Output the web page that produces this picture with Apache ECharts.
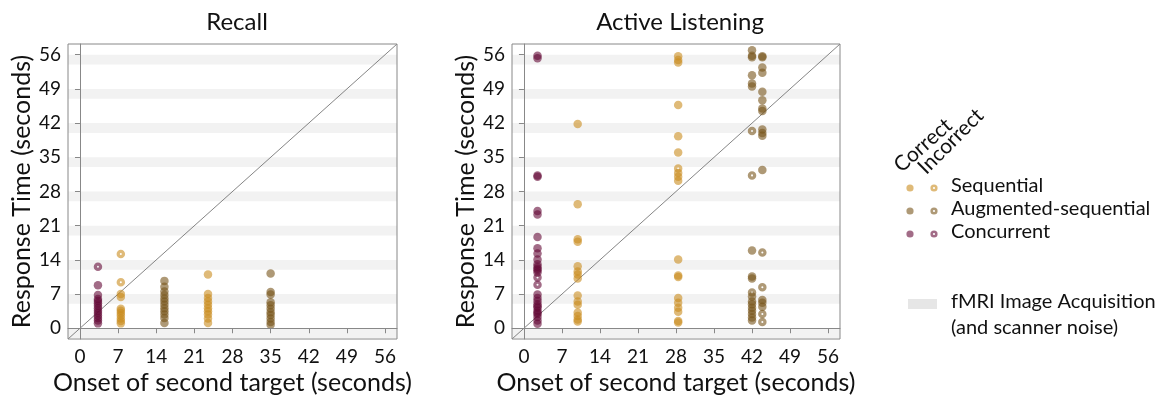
<!DOCTYPE html>
<html>
<head>
<meta charset="utf-8">
<script src="https://cdn.jsdelivr.net/npm/echarts@6/dist/echarts.min.js"></script>
<style>
  html, body { margin: 0; padding: 0; background: #fff; }
  #main { width: 1159px; height: 398px; }
</style>
</head>
<body>
<div id="main"></div>
<script>
// tick labels on both axes (seconds)
const ticks = [0, 7, 14, 21, 28, 35, 42, 49, 56];
// each fMRI acquisition ends on a tick and lasts 2 s
const scanDuration = 2;
const axisMin = -2.2;
const axisMax = 58.2;

// [onset of second target, response time]
const recallSequentialCorrect = [
  [7.5, 7.0], [7.5, 6.4], [7.5, 4.0], [7.5, 3.6], [7.5, 3.1], [7.5, 2.6], [7.5, 2.0], [7.5, 1.5], [7.5, 1.0],
  [23.5, 11.0], [23.5, 7.0], [23.5, 6.2], [23.5, 5.5], [23.5, 4.8], [23.5, 4.1], [23.5, 3.5], [23.5, 2.8], [23.5, 2.0], [23.5, 1.1]
];
const recallSequentialIncorrect = [[7.5, 15.2], [7.5, 9.4]];
const recallAugmentedCorrect = [
  [15.5, 9.7], [15.5, 8.5], [15.5, 7.5], [15.5, 6.8], [15.5, 6.1], [15.5, 5.5], [15.5, 4.8], [15.5, 4.1], [15.5, 3.5], [15.5, 2.8], [15.5, 2.1], [15.5, 1.1],
  [35, 11.2], [35, 7.4], [35, 6.9], [35, 5.3], [35, 4.7], [35, 4.0], [35, 3.3], [35, 2.7], [35, 2.0], [35, 1.3], [35, 0.7]
];
const recallAugmentedIncorrect = [];
const recallConcurrentCorrect = [
  [3.3, 8.8], [3.3, 6.8], [3.3, 6.0], [3.3, 5.6], [3.3, 5.1], [3.3, 4.6], [3.3, 4.1], [3.3, 3.6], [3.3, 3.1],
  [3.3, 2.6], [3.3, 2.1], [3.3, 1.6], [3.3, 1.0]
];
const recallConcurrentIncorrect = [[3.3, 12.6]];

const activeSequentialCorrect = [
  [9.9, 41.8], [9.9, 25.4], [9.9, 18.2], [9.9, 17.7], [9.9, 12.7], [9.9, 11.6], [9.9, 11.0], [9.9, 10.2], [9.9, 6.7], [9.9, 5.5], [9.9, 4.8], [9.9, 3.2], [9.9, 2.5], [9.9, 1.8], [9.9, 1.4],
  [28.4, 55.7], [28.4, 54.9], [28.4, 54.4], [28.4, 45.7], [28.4, 39.3], [28.4, 36.0], [28.4, 31.8], [28.4, 31.0], [28.4, 30.2],
  [28.4, 14.1], [28.4, 10.8], [28.4, 10.5], [28.4, 6.2], [28.4, 5.2], [28.4, 4.2], [28.4, 3.4], [28.4, 1.5], [28.4, 1.2]
];
const activeSequentialIncorrect = [[28.4, 32.7]];
const activeAugmentedCorrect = [
  [42, 56.9], [42, 55.8], [42, 55.5], [42, 51.8], [42, 50.1], [42, 49.5], [42, 15.9], [42, 10.6], [42, 10.2], [42, 6.5], [42, 5.5], [42, 4.9], [42, 4.2], [42, 3.6], [42, 2.9], [42, 2.2], [42, 1.6],
  [43.9, 55.7], [43.9, 55.5], [43.9, 53.4], [43.9, 52.3], [43.9, 48.4], [43.9, 46.7], [43.9, 45.0], [43.9, 44.5],
  [43.9, 40.7], [43.9, 40.0], [43.9, 39.4], [43.9, 32.4], [43.9, 5.8], [43.9, 5.2], [43.9, 4.4]
];
const activeAugmentedIncorrect = [[42, 40.4], [42, 31.3], [42, 7.3], [43.9, 15.5], [43.9, 8.4], [43.9, 2.9], [43.9, 1.3]];
const activeConcurrentCorrect = [
  [2.5, 55.8], [2.5, 55.3], [2.5, 31.3], [2.5, 31.0], [2.5, 24.0], [2.5, 23.3], [2.5, 18.7], [2.5, 16.4], [2.5, 15.3], [2.5, 14.1],
  [2.5, 13.1], [2.5, 12.6], [2.5, 12.2], [2.5, 11.9], [2.5, 11.4], [2.5, 6.9], [2.5, 6.2], [2.5, 5.6], [2.5, 4.9], [2.5, 4.5],
  [2.5, 4.2], [2.5, 3.6], [2.5, 3.2], [2.5, 2.9], [2.5, 2.3], [2.5, 1.6], [2.5, 0.9]
];
const activeConcurrentIncorrect = [[2.5, 10.4], [2.5, 8.9]];

const colors = {
  Sequential: '#c98c1e',
  'Augmented-sequential': '#78551a',
  Concurrent: '#640a37'
};
const dotOpacity = 0.6;
const font = 'Lato, "Open Sans", sans-serif';

// donut symbol for incorrect answers
const ringSymbol = 'path://M0,10A10,10 0 1,1 20,10A10,10 0 1,1 0,10ZM7.6,10A2.4,2.4 0 1,0 12.4,10A2.4,2.4 0 1,0 7.6,10Z';

const chart = echarts.init(document.getElementById('main'));

function xAxisFor(i) {
  return {
    gridIndex: i, type: 'value', min: axisMin, max: axisMax, z: 10,
    name: 'Onset of second target (seconds)', nameLocation: 'middle', nameGap: 31,
    nameTextStyle: { fontSize: 25, color: '#111', fontFamily: font },
    axisLine: { show: true, lineStyle: { color: '#888' } },
    axisTick: { show: true, length: 5, lineStyle: { color: '#888' }, customValues: ticks },
    axisLabel: { fontSize: 19, color: '#111', fontFamily: font, margin: 8, customValues: ticks },
    splitLine: { show: false }
  };
}
function yAxisFor(i) {
  return {
    gridIndex: i, type: 'value', min: axisMin, max: axisMax, z: 10,
    name: 'Response Time (seconds)', nameLocation: 'middle', nameGap: 34,
    nameTextStyle: { fontSize: 25, color: '#111', fontFamily: font },
    axisLine: { show: true, lineStyle: { color: '#888' } },
    axisTick: { show: true, length: 5, lineStyle: { color: '#888' }, customValues: ticks },
    axisLabel: { fontSize: 19, color: '#111', fontFamily: font, margin: 7, customValues: ticks },
    splitLine: { show: false }
  };
}

function panelSeries(i, groups) {
  const out = [{
    type: 'line', xAxisIndex: i, yAxisIndex: i, silent: true, z: 1,
    data: [[axisMin, axisMin], [axisMax, axisMax]],
    symbol: 'none', lineStyle: { color: '#666', width: 0.8 },
    markArea: {
      silent: true,
      itemStyle: { color: '#f2f2f2' },
      data: ticks.map(t => [{ yAxis: t - scanDuration }, { yAxis: t }])
    }
  }];
  groups.forEach(g => {
    out.push({
      type: 'scatter', xAxisIndex: i, yAxisIndex: i, z: 3, data: g.correct,
      symbol: 'circle', symbolSize: 8.5,
      itemStyle: { color: colors[g.name], opacity: dotOpacity }
    });
    out.push({
      type: 'scatter', xAxisIndex: i, yAxisIndex: i, z: 3, data: g.incorrect,
      symbol: ringSymbol, symbolSize: 8.5,
      itemStyle: { color: colors[g.name], opacity: dotOpacity }
    });
  });
  return out;
}

const legendRows = ['Sequential', 'Augmented-sequential', 'Concurrent'];
const legendGraphics = [];
legendRows.forEach((name, k) => {
  const cy = 188 + k * 23;
  legendGraphics.push({ type: 'circle', shape: { cx: 910, cy: cy, r: 3.6 }, style: { fill: colors[name], opacity: dotOpacity } });
  legendGraphics.push({ type: 'circle', shape: { cx: 934, cy: cy, r: 3.6 }, style: { fill: colors[name], opacity: dotOpacity } });
  legendGraphics.push({ type: 'circle', shape: { cx: 934, cy: cy, r: 1.1 }, style: { fill: '#fff' } });
  legendGraphics.push({ type: 'text', x: 951, y: cy - 2, style: { text: name, font: '20px ' + font, fill: '#111', textVerticalAlign: 'middle' } });
});
legendGraphics.push({ type: 'text', x: 904, y: 176, rotation: Math.PI * 0.23, style: { text: 'Correct', font: '21px ' + font, fill: '#111', textVerticalAlign: 'bottom' } });
legendGraphics.push({ type: 'text', x: 929, y: 178, rotation: Math.PI * 0.25, style: { text: 'Incorrect', font: '21px ' + font, fill: '#111', textVerticalAlign: 'bottom' } });
legendGraphics.push({ type: 'rect', shape: { x: 908, y: 299, width: 29, height: 10 }, style: { fill: '#e6e6e6' } });
legendGraphics.push({ type: 'text', x: 951, y: 302, style: { text: 'fMRI Image Acquisition', font: '20px ' + font, fill: '#111', textVerticalAlign: 'middle' } });
legendGraphics.push({ type: 'text', x: 951, y: 328, style: { text: '(and scanner noise)', font: '20px ' + font, fill: '#111', textVerticalAlign: 'middle' } });

const gridBase = { top: 44, height: 295, show: true, borderColor: '#888', borderWidth: 1, z: 10, outerBoundsMode: 'none', containLabel: false };

chart.setOption({
  animation: false,
  textStyle: { fontFamily: font },
  title: [
    { text: 'Recall', left: 232, top: 5, textAlign: 'center', textStyle: { fontSize: 24, fontWeight: 'normal', color: '#111', fontFamily: font } },
    { text: 'Active Listening', left: 675, top: 5, textAlign: 'center', textStyle: { fontSize: 24, fontWeight: 'normal', color: '#111', fontFamily: font } }
  ],
  grid: [
    Object.assign({ left: 68, width: 329 }, gridBase),
    Object.assign({ left: 512, width: 328 }, gridBase)
  ],
  xAxis: [xAxisFor(0), xAxisFor(1)],
  yAxis: [yAxisFor(0), yAxisFor(1)],
  series: [
    ...panelSeries(0, [
      { name: 'Sequential', correct: recallSequentialCorrect, incorrect: recallSequentialIncorrect },
      { name: 'Augmented-sequential', correct: recallAugmentedCorrect, incorrect: recallAugmentedIncorrect },
      { name: 'Concurrent', correct: recallConcurrentCorrect, incorrect: recallConcurrentIncorrect }
    ]),
    ...panelSeries(1, [
      { name: 'Sequential', correct: activeSequentialCorrect, incorrect: activeSequentialIncorrect },
      { name: 'Augmented-sequential', correct: activeAugmentedCorrect, incorrect: activeAugmentedIncorrect },
      { name: 'Concurrent', correct: activeConcurrentCorrect, incorrect: activeConcurrentIncorrect }
    ])
  ],
  graphic: legendGraphics
});

window.addEventListener('resize', () => chart.resize());
</script>
</body>
</html>
